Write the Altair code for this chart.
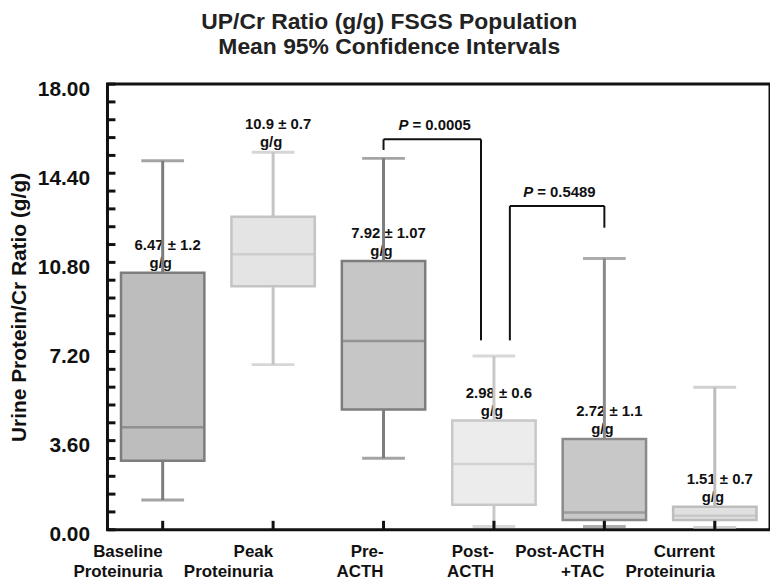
import altair as alt
import pandas as pd

# ---------------- data ----------------
categories = ["Baseline Proteinuria", "Peak Proteinuria", "Pre- ACTH",
              "Post- ACTH", "Post-ACTH +TAC", "Current Proteinuria"]
whisker_low = [1.20, 6.67, 2.89, 0.13, 0.13, 0.09]
quartile_1 = [2.79, 9.84, 4.86, 1.01, 0.39, 0.39]
medians = [4.14, 11.13, 7.62, 2.66, 0.70, 0.57]
quartile_3 = [10.38, 12.64, 10.86, 4.41, 3.67, 0.93]
whisker_high = [14.90, 15.25, 15.00, 7.02, 10.96, 5.76]
mean_ci_labels = ["6.47 ± 1.2", "10.9 ± 0.7", "7.92 ± 1.07",
                  "2.98 ± 0.6", "2.72 ± 1.1", "1.51 ± 0.7"]
unit_label = "g/g"
label_above_whisker = [False, True, False, False, False, False]

y_tick_labels = [0.0, 3.6, 7.2, 10.8, 14.4, 18.0]
y_minor_ticks = [0.72, 1.44, 2.16, 2.88, 4.32, 5.04, 5.76, 6.48, 7.92, 8.64,
                 9.36, 10.08, 11.52, 12.24, 12.96, 13.68, 15.12, 15.84, 16.56, 17.28]

p_values = ["0.0005", "0.5489"]
p_from = ["Pre- ACTH", "Post- ACTH"]
p_to = ["Post- ACTH", "Post-ACTH +TAC"]
p_bar_level = [15.77, 13.08]
p_left_end = [15.34, 7.65]
p_right_end = [7.65, 12.20]

# ---------------- styles ----------------
fill_colors = ["#bdbdbd", "#e4e4e4", "#c6c6c6", "#ececec", "#c8c8c8", "#e0e0e0"]
stroke_colors = ["#7d7d7d", "#c4c4c4", "#7d7d7d", "#c8c8c8", "#8a8a8a", "#bdbdbd"]
bracket_offsets = [(0, -13), (16, 0)]   # pixel shifts of left / right legs

FONT = "Liberation Sans"
PLOT_W, PLOT_H = 666, 448
BAND = PLOT_W / len(categories)

df = pd.DataFrame({
    "cat": categories, "lo": whisker_low, "q1": quartile_1, "med": medians,
    "q3": quartile_3, "hi": whisker_high, "lab": mean_ci_labels,
    "fillc": fill_colors, "strokec": stroke_colors,
})
df["anchor"] = [h if a else q for h, a, q in zip(whisker_high, label_above_whisker, quartile_3)]
df["unit"] = unit_label

xscale = alt.Scale(domain=categories, paddingInner=0, paddingOuter=0)
yscale = alt.Scale(domain=[0, 18], nice=False, zero=True)

X = alt.X("cat:N", scale=xscale, sort=categories,
          axis=alt.Axis(title=None, labelAngle=0, ticks=False, domain=False,
                        labelExpr="split(datum.label, ' ')",
                        labelFont=FONT, labelFontWeight="bold", labelFontSize=17,
                        labelLineHeight=20, labelPadding=22, labelColor="#111"))
Y = alt.Y("lo:Q", scale=yscale,
          axis=alt.Axis(title="Urine Protein/Cr Ratio (g/g)", values=y_tick_labels,
                        format=".2f", ticks=False, domain=False, grid=False,
                        labelFont=FONT, labelFontWeight="bold", labelFontSize=21,
                        labelColor="#111", labelPadding=18, labelOffset=5,
                        titleFont=FONT, titleFontWeight="bold", titleFontSize=21,
                        titleColor="#111", titlePadding=8))

base = alt.Chart(df)
XC = alt.X("cat:N", scale=xscale, sort=categories)

txt1 = base.mark_text(font=FONT, fontWeight="bold", fontSize=15, color="#111",
                      baseline="middle", dy=-28, dx=5).encode(
    x=XC, y=alt.Y("anchor:Q", scale=yscale), text="lab:N")
txt2 = base.mark_text(font=FONT, fontWeight="bold", fontSize=15, color="#111",
                      baseline="middle", dy=-10, dx=-2).encode(
    x=XC, y=alt.Y("anchor:Q", scale=yscale), text="unit:N")

whisk_lo = base.mark_rule(strokeWidth=3).encode(
    x=X, y=Y, y2="q1:Q", color=alt.Color("strokec:N", scale=None))
whisk_hi = base.mark_rule(strokeWidth=3).encode(
    x=XC, y=alt.Y("q3:Q", scale=yscale), y2="hi:Q",
    color=alt.Color("strokec:N", scale=None))
box = base.mark_bar(strokeWidth=2.5, width=alt.RelativeBandSize(0.755)).encode(
    x=XC, y=alt.Y("q1:Q", scale=yscale), y2="q3:Q",
    fill=alt.Fill("fillc:N", scale=None), stroke=alt.Stroke("strokec:N", scale=None))
med = base.mark_tick(size=84, thickness=2.5).encode(
    x=XC, y=alt.Y("med:Q", scale=yscale), color=alt.Color("strokec:N", scale=None))
cap_lo = base.mark_tick(size=43, thickness=3).encode(
    x=XC, y=alt.Y("lo:Q", scale=yscale), color=alt.Color("strokec:N", scale=None))
cap_hi = base.mark_tick(size=43, thickness=3).encode(
    x=XC, y=alt.Y("hi:Q", scale=yscale), color=alt.Color("strokec:N", scale=None))

layers = [txt1, txt2, whisk_lo, whisk_hi, box, med, cap_lo, cap_hi]

# significance brackets
for i in range(len(p_values)):
    lo_off, ro_off = bracket_offsets[i]
    bdf = pd.DataFrame({"a": [p_from[i]], "b": [p_to[i]], "lvl": [p_bar_level[i]],
                        "le": [p_left_end[i]], "re": [p_right_end[i]],
                        "P": ["P"], "pv": ["= " + p_values[i]]})
    bb = alt.Chart(bdf)
    xa = alt.X("a:N", scale=xscale, sort=categories)
    xb = alt.X("b:N", scale=xscale, sort=categories)
    layers.append(bb.mark_rule(color="#111", strokeWidth=2, xOffset=lo_off, x2Offset=ro_off).encode(
        x=xa, x2="b:N", y=alt.Y("lvl:Q", scale=yscale)))
    layers.append(bb.mark_rule(color="#111", strokeWidth=2, xOffset=lo_off).encode(
        x=xa, y=alt.Y("lvl:Q", scale=yscale), y2="le:Q"))
    layers.append(bb.mark_rule(color="#111", strokeWidth=2, xOffset=ro_off).encode(
        x=xb, y=alt.Y("lvl:Q", scale=yscale), y2="re:Q"))
    mid = lo_off + (BAND + ro_off - lo_off) / 2
    layers.append(bb.mark_text(font=FONT, fontWeight="bold", fontStyle="italic",
                               fontSize=15, color="#111", align="right",
                               baseline="middle", dy=-14, xOffset=mid - 24).encode(
        x=xa, y=alt.Y("lvl:Q", scale=yscale), text="P:N"))
    layers.append(bb.mark_text(font=FONT, fontWeight="bold", fontSize=15, color="#111",
                               align="left", baseline="middle", dy=-14,
                               xOffset=mid - 20).encode(
        x=xa, y=alt.Y("lvl:Q", scale=yscale), text="pv:N"))

# inner ticks on y and x axes
ytick_df = pd.DataFrame({"v": y_tick_labels + y_minor_ticks})
layers.append(alt.Chart(ytick_df).mark_rule(color="#111", strokeWidth=3).encode(
    y=alt.Y("v:Q", scale=yscale), x=alt.value(0), x2=alt.value(8)))
xtick_df = pd.DataFrame({"cat": categories})
layers.append(alt.Chart(xtick_df).mark_rule(color="#111", strokeWidth=3).encode(
    x=XC, y=alt.value(PLOT_H - 9), y2=alt.value(PLOT_H)))

chart = alt.layer(*layers).properties(
    width=PLOT_W, height=PLOT_H,
    padding={"left": 0, "top": 2, "right": 0, "bottom": 0},
    title=alt.TitleParams(
        text=["UP/Cr Ratio (g/g) FSGS Population", "Mean 95% Confidence Intervals"],
        font=FONT, fontWeight="bold", fontSize=23, color="#222",
        lineHeight=25, anchor="middle", frame="bounds", offset=19),
).configure_view(stroke="#111", strokeWidth=3)

chart.save("out.html", embed_options={"renderer": "svg", "actions": False})
